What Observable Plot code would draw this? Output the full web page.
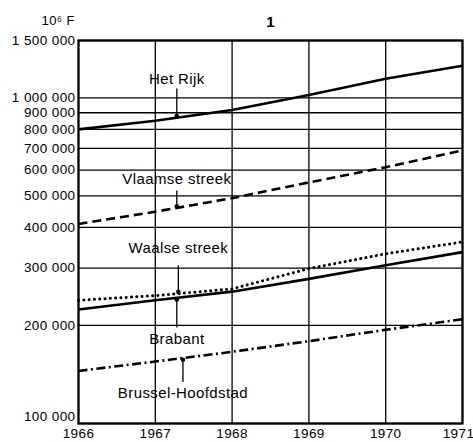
<!DOCTYPE html>
<html><head><meta charset="utf-8">
<script src="https://cdn.jsdelivr.net/npm/d3@7"></script>
<script src="https://cdn.jsdelivr.net/npm/@observablehq/plot@0.6"></script>
<style>body{margin:0;background:#fff} svg{display:block}</style>
</head><body><div id="chart"></div>
<script>
// ---- data (10^6 F) ----
const years = [1966, 1967, 1968, 1969, 1970, 1971];
const hetRijk  = [800000, 850000, 918000, 1020000, 1145000, 1255000];
const vlaamse  = [410000, 447000, 492000, 550000, 612000, 690000];
const waalse   = [239000, 247000, 259000, 299000, 332000, 361000];
const brabant  = [224000, 239000, 254000, 278000, 306000, 336000];
const brussel  = [145000, 155000, 166000, 179000, 194000, 209000];
const seriesNames = ["Het Rijk", "Vlaamse streek", "Waalse streek", "Brabant", "Brussel-Hoofdstad"];
const yTicks = [100000, 200000, 300000, 400000, 500000, 600000, 700000, 800000, 900000, 1000000, 1500000];
const yLabel = "10⁶ F";
const title = "1";
// annotation anchors (data units): year of arrow, label value, arrow start value
const noteYear  = [1967.28, 1967.28, 1967.3, 1967.28, 1967.36];
const noteLabel = [1138000, 561000, 345000, 182000, 124000];
const noteStart = [1068000, 519000, 306000, 197000, 134000];

// ---- build tables ----
const seriesValues = [hetRijk, vlaamse, waalse, brabant, brussel];
const dash = ["none", "9,5", "0.1,5.2", "none", "9,3.5,2,3.5"];
const rows = seriesNames.map((name, s) => years.map((yr, i) => ({name, year: yr, value: seriesValues[s][i]})));
function interp(vals, yr) {
  const i = Math.min(Math.floor(yr - years[0]), years.length - 2);
  const t = yr - years[i];
  return Math.exp(Math.log(vals[i]) * (1 - t) + Math.log(vals[i + 1]) * t);
}
const notes = seriesNames.map((name, s) => ({
  name, year: noteYear[s], label: noteLabel[s], start: noteStart[s],
  end: interp(seriesValues[s], noteYear[s]) * (noteStart[s] > interp(seriesValues[s], noteYear[s]) ? 1.012 : 0.988)
}));
const fmt = d3.formatLocale({decimal: ",", thousands: " ", grouping: [3], currency: ["", ""]}).format(",d");
const lastYear = years[years.length - 1];
const lowTick = yTicks[0];

const marks = [
  Plot.ruleY(yTicks, {stroke: "black", strokeWidth: 1.3}),
  Plot.ruleX(years, {stroke: "black", strokeWidth: 1.3}),
  Plot.frame({stroke: "black", strokeWidth: 2.2}),
  Plot.axisY(yTicks.filter(d => d !== lowTick), {tickFormat: fmt, tickSize: 0, tickPadding: 3, label: null}),
  Plot.axisY([lowTick], {tickFormat: fmt, tickSize: 0, tickPadding: 3, dy: -7, label: null}),
  Plot.axisX(years.filter(d => d !== lastYear), {tickFormat: d => String(d), tickSize: 0, tickPadding: 5, label: null}),
  Plot.axisX([lastYear], {tickFormat: d => String(d), tickSize: 0, tickPadding: 5, dx: -4, label: null}),
  ...rows.map((r, s) => Plot.line(r, {
    x: "year", y: "value", stroke: "black",
    strokeWidth: s === 2 ? 3 : 2.6,
    strokeDasharray: dash[s] === "none" ? undefined : dash[s],
    strokeLinecap: s === 2 ? "round" : "butt"
  })),
  Plot.link(notes, {x1: "year", x2: "year", y1: "start", y2: "end", stroke: "black", strokeWidth: 1.3}),
  Plot.dot(notes, {x: "year", y: "end", r: 2.3, fill: "black", stroke: null}),
  Plot.text(notes, {x: "year", y: "label", text: "name", fontSize: 15, fill: "black", textAnchor: "middle"}),
  Plot.text([title], {frameAnchor: "top", dy: -24, fontSize: 15, fontWeight: "bold", fill: "black"}),
  Plot.text([yLabel], {frameAnchor: "top-left", dx: -37, dy: -25, textAnchor: "start", fontSize: 13, fill: "black"})
];

const chart = Plot.plot({
  width: 473, height: 442,
  marginLeft: 78, marginRight: 11, marginTop: 40, marginBottom: 19,
  x: {domain: [1966, 1971]},
  y: {type: "log", domain: [100000, 1500000]},
  style: {fontFamily: "'Liberation Sans', Arial, sans-serif", fontSize: "13.5px", color: "black", background: "white", letterSpacing: "0.4px"},
  marks
});
document.getElementById("chart").appendChild(chart);
</script>
</body></html>
